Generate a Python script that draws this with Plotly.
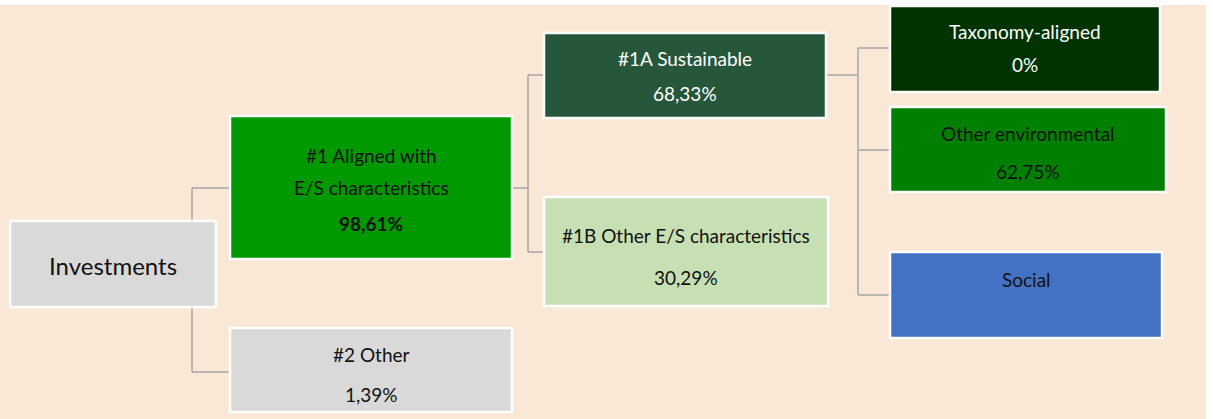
import plotly.graph_objects as go

# ---- data ----
node_titles = [
    "Investments",
    "#1 Aligned with|E/S characteristics",
    "#2 Other",
    "#1A Sustainable",
    "#1B Other E/S characteristics",
    "Taxonomy-aligned",
    "Other environmental",
    "Social",
]
node_values = [None, 98.61, 1.39, 68.33, 30.29, 0, 62.75, None]
node_parents = [None, 0, 0, 1, 1, 3, 3, 3]

# ---- layout / style (pixel geometry) ----
W, H = 1213, 419
boxes = [  # x0, x1, y0, y1
    (10, 216, 221, 307),
    (230, 512, 116, 259),
    (230, 512, 328, 412),
    (544, 826, 33, 118),
    (544, 828, 197, 306),
    (890, 1160, 6, 92),
    (890, 1166, 107, 192),
    (890, 1162, 252, 338),
]
fills = ["#D9D9D9", "#009900", "#D9D9D9", "#27573B", "#C6E0B4", "#003300", "#008000", "#4472C4"]
text_colors = ["#111111", "#111111", "#111111", "#FFFFFF", "#111111", "#FFFFFF", "#111111", "#111111"]
# y positions of each line (title lines then value line)
line_y = [
    [265],
    [155, 187, 223],
    [354, 394],
    [58, 93],
    [235, 277],
    [31, 64],
    [133, 171],
    [279],
]
font_sizes = [24, 19, 19, 19, 19, 19, 19, 19]
bold_value = [False, True, False, False, False, False, False, False]
# connector geometry: x of vertical trunk for each parent, and y where it leaves the parent
trunk = {0: (192, 188), 1: (528, 188), 3: (858, 75)}
child_join_y = {1: 188, 2: 372, 3: 75, 4: 252, 5: 48, 6: 150, 7: 295}


def fmt(v):
    if v is None:
        return None
    if float(v).is_integer():
        s = str(int(v))
    else:
        s = f"{v:.2f}".replace(".", ",")
    return s + "%"


fig = go.Figure()
shapes = []
annotations = []

# peach background
shapes.append(dict(type="rect", xref="x", yref="y", x0=0, x1=1206, y0=5, y1=H,
                   fillcolor="#FAE8D7", line=dict(width=0), layer="below"))

line_style = dict(color="#A6A6A6", width=1.5)
# connectors
for p, (tx, ty) in trunk.items():
    kids = [i for i, pp in enumerate(node_parents) if pp == p]
    ys = [child_join_y[k] for k in kids]
    px1 = boxes[p][1]
    if p == 0:
        shapes.append(dict(type="line", xref="x", yref="y", x0=tx, x1=tx, y0=min(ys), y1=max(ys),
                           line=line_style, layer="below"))
    else:
        shapes.append(dict(type="line", xref="x", yref="y", x0=px1, x1=tx, y0=ty, y1=ty,
                           line=line_style, layer="below"))
        shapes.append(dict(type="line", xref="x", yref="y", x0=tx, x1=tx, y0=min(ys + [ty]), y1=max(ys + [ty]),
                           line=line_style, layer="below"))
    for k, yk in zip(kids, ys):
        shapes.append(dict(type="line", xref="x", yref="y", x0=tx, x1=boxes[k][0], y0=yk, y1=yk,
                           line=line_style, layer="below"))

# boxes
for i, (x0, x1, y0, y1) in enumerate(boxes):
    shapes.append(dict(type="rect", xref="x", yref="y", x0=x0, x1=x1, y0=y0, y1=y1,
                       fillcolor=fills[i], line=dict(color="#FFFFFF", width=2.5), layer="above"))
    lines = node_titles[i].split("|")
    v = fmt(node_values[i])
    if v is not None:
        lines.append(f"<b>{v}</b>" if bold_value[i] else v)
    cx = (x0 + x1) / 2
    for txt, yy in zip(lines, line_y[i]):
        annotations.append(dict(x=cx, y=yy, xref="x", yref="y", text=txt, showarrow=False,
                                xanchor="center", yanchor="middle",
                                font=dict(family="Lato, Carlito, sans-serif", size=font_sizes[i],
                                          color=text_colors[i])))

fig.update_layout(
    width=W, height=H, autosize=False,
    margin=dict(l=0, r=0, t=0, b=0),
    paper_bgcolor="#FFFFFF", plot_bgcolor="#FFFFFF",
    xaxis=dict(range=[0, W], visible=False, fixedrange=True),
    yaxis=dict(range=[H, 0], visible=False, fixedrange=True),
    shapes=shapes, annotations=annotations, showlegend=False,
)
fig.write_html("out.html", config={"displayModeBar": False},
               post_script="document.body.style.margin='0';document.body.style.overflow='hidden';")
